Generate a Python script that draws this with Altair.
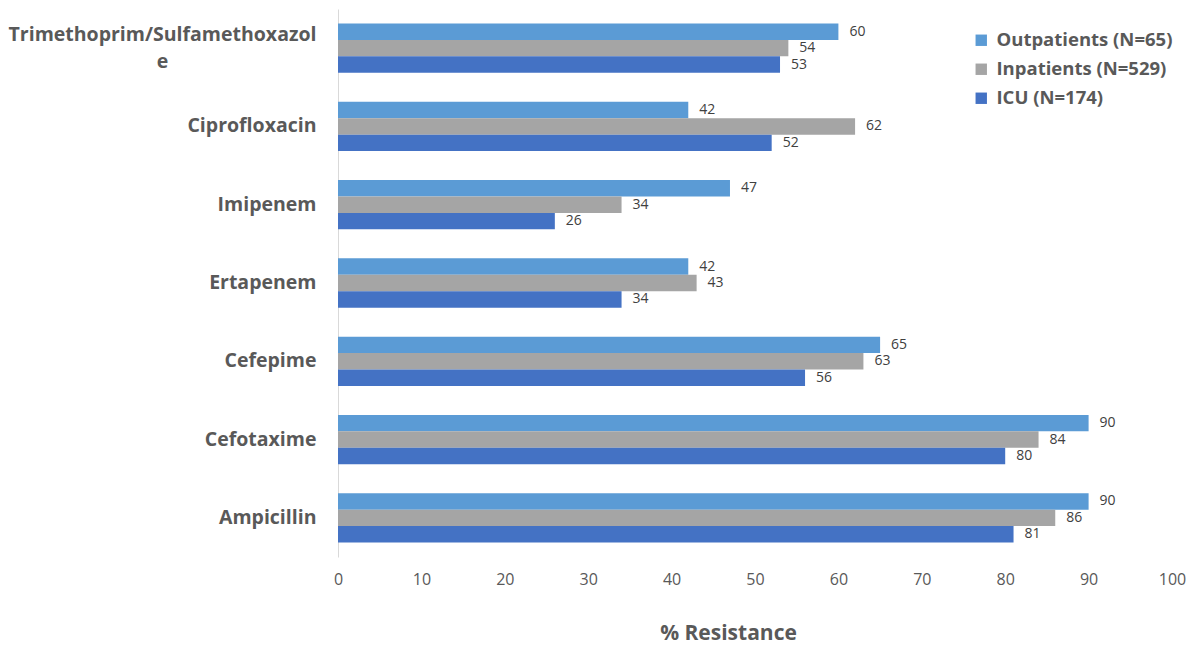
import altair as alt
import pandas as pd

# Antibiotics, top to bottom
drugs = ["Trimethoprim/Sulfamethoxazole", "Ciprofloxacin", "Imipenem",
         "Ertapenem", "Cefepime", "Cefotaxime", "Ampicillin"]
groups = ["Outpatients (N=65)", "Inpatients (N=529)", "ICU (N=174)"]
outpatients = [60, 42, 47, 42, 65, 90, 90]
inpatients = [54, 62, 34, 43, 63, 84, 86]
icu = [53, 52, 26, 34, 56, 80, 81]
colors = ["#5B9BD5", "#A5A5A5", "#4472C4"]

rows = []
for i, d in enumerate(drugs):
    for g, vals in zip(groups, [outpatients, inpatients, icu]):
        rows.append({"drug": d, "group": g, "value": vals[i]})
df = pd.DataFrame(rows)

FONT = "Open Sans"
TICK_FONT = "Liberation Sans Narrow, Open Sans"
LONG = "Trimethoprim/Sulfamethoxazole"
is_long = f"datum.value == '{LONG}'"
label_expr = f"{is_long} ? ['Trimethoprim/Sulfamethoxazol', 'e'] : datum.value"

y_enc = alt.Y(
    "drug:N", sort=drugs, title=None,
    scale=alt.Scale(paddingInner=0.37, paddingOuter=0.185),
    axis=alt.Axis(labelFont=FONT, labelFontSize=19.5, labelFontWeight="bold",
                  labelColor="#595959", ticks=False,
                  labelAlign={"condition": {"test": is_long, "value": "center"},
                              "value": "right"},
                  labelPadding={"condition": {"test": is_long, "value": 176},
                                "value": 22},
                  labelOffset={"condition": {"test": is_long, "value": -13},
                               "value": 0},
                  domainColor="#D9D9D9", labelExpr=label_expr,
                  labelLineHeight=27, labelLimit=400),
)
yoff = alt.YOffset("group:N", sort=groups)
x_enc = alt.X(
    "value:Q", title="% Resistance",
    scale=alt.Scale(domain=[0, 100]),
    axis=alt.Axis(values=list(range(0, 101, 10)), grid=False, domain=False,
                  ticks=False, labelFlush=False, labelFont=TICK_FONT,
                  labelFontSize=16, labelColor="#595959", labelPadding=14,
                  titleFont=FONT, titleFontSize=21, titleFontWeight="bold",
                  titleColor="#595959", titlePadding=35, titleX=390),
)

bars = alt.Chart(df).mark_bar().encode(
    y=y_enc, yOffset=yoff, x=x_enc,
    color=alt.Color("group:N", sort=groups,
                    scale=alt.Scale(domain=groups, range=colors),
                    legend=alt.Legend(title=None, orient="none", legendX=634,
                                      legendY=22, symbolType="square",
                                      symbolSize=130, symbolStrokeWidth=0,
                                      labelFont=FONT, labelFontSize=18.5,
                                      labelFontWeight="bold",
                                      labelColor="#595959", rowPadding=10,
                                      labelOffset=6, labelLimit=300)),
)

labels = alt.Chart(df).mark_text(
    align="left", baseline="middle", dx=11, font=FONT, fontSize=14,
    color="#404040",
).encode(y=alt.Y("drug:N", sort=drugs), yOffset=yoff, x="value:Q",
         text="value:Q")

chart = (bars + labels).properties(
    width=834, height=548,
    autosize=alt.AutoSizeParams(type="none"),
    padding={"left": 338, "top": 9, "right": 20, "bottom": 88},
).configure_view(stroke=None)

chart.save("out.html", embed_options={"renderer": "svg", "actions": False})
